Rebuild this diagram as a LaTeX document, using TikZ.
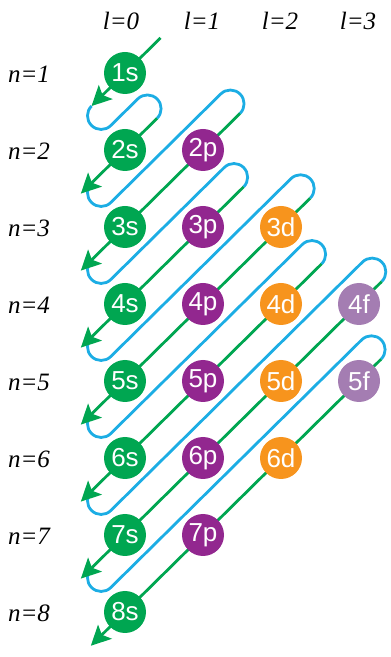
\documentclass[tikz,border=0pt]{standalone}
\usepackage{fontspec}
\setmainfont{Liberation Serif}
\setsansfont{Liberation Sans}
\usetikzlibrary{arrows.meta,backgrounds}
\definecolor{sgreen}{HTML}{00A651}
\definecolor{pcol}{HTML}{92278F}
\definecolor{dcol}{HTML}{F7941D}
\definecolor{fcol}{HTML}{A47DB2}
\definecolor{lblue}{HTML}{1CADE4}
\begin{document}
\begin{tikzpicture}[x=1pt,y=1pt,
  orb/.style={circle, minimum size=42pt, inner sep=0pt, text=white, font=\fontsize{26}{26}\selectfont\sffamily},
  lab/.style={anchor=base, inner sep=0pt, font=\fontsize{25}{25}\selectfont\itshape},
  gline/.style={draw=sgreen, line width=2.8pt},
  ghead/.style={fill=sgreen},
  bline/.style={draw=lblue, line width=2.8pt}]
\useasboundingbox (0,0) rectangle (391,657);
% column labels
\node[lab] (l0) at (121,627) {l=0};
\node[lab] (l1) at (202,627) {l=1};
\node[lab] (l2) at (280,627) {l=2};
\node[lab] (l3) at (358,627) {l=3};
% row labels
\node[lab] (n1) at (29,574) {n=1};
\node[lab] (n2) at (29,497) {n=2};
\node[lab] (n3) at (29,420) {n=3};
\node[lab] (n4) at (29,343) {n=4};
\node[lab] (n5) at (29,266) {n=5};
\node[lab] (n6) at (29,189) {n=6};
\node[lab] (n7) at (29,112) {n=7};
\node[lab] (n8) at (29,35) {n=8};
% orbitals
\node[orb,fill=sgreen] (o1s) at (125,584) {1s};
\node[orb,fill=sgreen] (o2s) at (125,507) {2s};
\node[orb,fill=sgreen] (o3s) at (125,430) {3s};
\node[orb,fill=sgreen] (o4s) at (125,353) {4s};
\node[orb,fill=sgreen] (o5s) at (125,276) {5s};
\node[orb,fill=sgreen] (o6s) at (125,199) {6s};
\node[orb,fill=sgreen] (o7s) at (125,122) {7s};
\node[orb,fill=sgreen] (o8s) at (125,45) {8s};
\node[orb,fill=pcol] (o2p) at (203,507) {2p};
\node[orb,fill=pcol] (o3p) at (203,430) {3p};
\node[orb,fill=pcol] (o4p) at (203,353) {4p};
\node[orb,fill=pcol] (o5p) at (203,276) {5p};
\node[orb,fill=pcol] (o6p) at (203,199) {6p};
\node[orb,fill=pcol] (o7p) at (203,122) {7p};
\node[orb,fill=dcol] (o3d) at (281,430) {3d};
\node[orb,fill=dcol] (o4d) at (281,353) {4d};
\node[orb,fill=dcol] (o5d) at (281,276) {5d};
\node[orb,fill=dcol] (o6d) at (281,199) {6d};
\node[orb,fill=fcol] (o4f) at (359,353) {4f};
\node[orb,fill=fcol] (o5f) at (359,276) {5f};
% diagonals (behind the circles)
\begin{scope}[on background layer]
\foreach \k/\a/\T in {1/50/-9.1, 2/45/107.5, 3/161.6/112.5, 4/166.6/206.1, 5/260.2/222.1, 6/276.2/306.7, 7/360.8/305.7}{
  \begin{scope}[shift={(o\k s.center)}, rotate=44.63]
    \draw[bline] (-47,0) arc[start angle=90, end angle=270, radius=13.7pt]
      -- (\T,-27.4) arc[start angle=90, end angle=-90, radius=13.7pt];
  \end{scope}
}
\foreach \k/\a/\e in {1/50/-47, 2/45/-62, 3/161.6/-62, 4/166.6/-62, 5/260.2/-62, 6/276.2/-62, 7/360.8/-62, 8/359.8/-48}{
  \begin{scope}[shift={(o\k s.center)}, rotate=44.63]
    \coordinate (gs\k) at (\a,0);
    \coordinate (ge\k) at (\e,0);
    \coordinate (gn\k) at ({\e+15},0);
    \draw[gline] (gs\k) -- (gn\k);
    \fill[ghead] (ge\k) -- ++(20,10) -- ++(-4.5,-10) -- ++(4.5,-10) -- cycle;
  \end{scope}
}
\end{scope}
\end{tikzpicture}
\end{document}
